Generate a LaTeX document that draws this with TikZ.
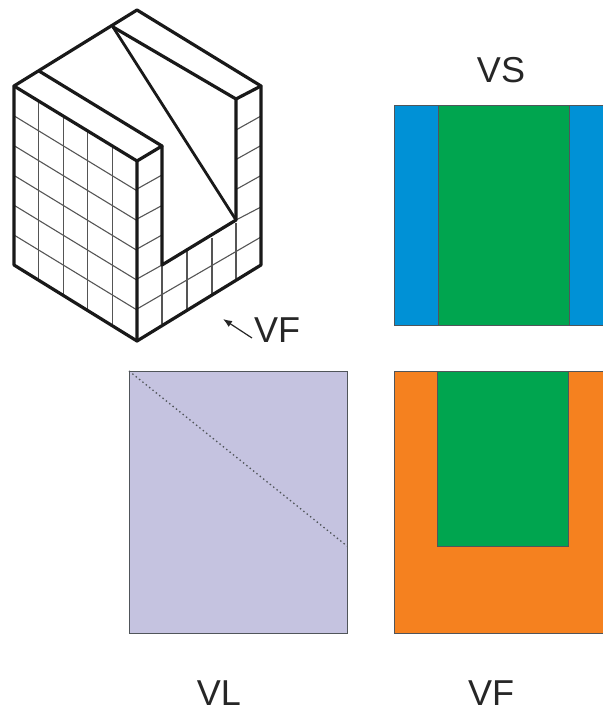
\documentclass[tikz,border=0pt]{standalone}
\usepackage{fontspec}
\usetikzlibrary{arrows.meta}
\setmainfont{Liberation Sans}
\definecolor{vblue}{HTML}{0091D6}
\definecolor{vgreen}{HTML}{00A54F}
\definecolor{vlav}{HTML}{C5C3E0}
\definecolor{vorange}{HTML}{F5811F}
\definecolor{vedge}{HTML}{50555A}
\definecolor{vgrid}{HTML}{555555}
\begin{document}
\begin{tikzpicture}[x=1pt,y=-1pt,
  thick edge/.style={line width=3.2pt,black!90,line join=round,line cap=round},
  mid edge/.style={line width=2.8pt,black!90,line join=round,line cap=round},
  gridline/.style={line width=1.1pt,vgrid},
  flat/.style={draw=vedge,line width=1pt},
  lbl/.style={font=\fontsize{36}{36}\selectfont,text=black!85,inner sep=0pt,anchor=base}]
\useasboundingbox (0,0) rectangle (603,708);
% grid, left face
\foreach \x in {38.6,63.2,87.8,112.4}{
  \draw[gridline] (\x,{86+(\x-14)*0.6}) -- (\x,{265+(\x-14)*0.6});}
\foreach \k in {1,...,5}{
  \draw[gridline] (14,{86+\k*29.8}) -- (137,{161+\k*29.8});}
% grid, right face: lower rows
\draw[gridline] (137,189) -- (162,175);
\draw[gridline] (137,219) -- (162,205.5);
\draw[gridline] (137,249) -- (162,235);
\draw[gridline] (137,279) -- (162,265) (162,265) -- (236,221);
\draw[gridline] (137,309) -- (261,237);
% grid, right strip
\draw[gridline] (236,130) -- (261,116);
\draw[gridline] (236,159.5) -- (261,145.5);
\draw[gridline] (236,189.5) -- (261,175.5);
\draw[gridline] (236,220) -- (261,207);
% grid, right face: verticals
\draw[gridline] (162,265) -- (162,324);
\draw[gridline] (187,251) -- (187,309);
\draw[gridline] (212,238) -- (212,294);
\draw[gridline] (236,223) -- (236,280);
% block outline
\draw[thick edge] (14,86) -- (137,10) -- (261,86) -- (261,265) -- (137,341) -- (14,265) -- cycle;
\draw[thick edge] (14,86) -- (137,161) -- (137,341);
\draw[thick edge] (137,161) -- (162,146) -- (39,71);
\draw[thick edge] (162,146) -- (162,265) -- (236,220) -- (236,99) -- (113,27);
\draw[thick edge] (236,99) -- (261,86);
\draw[mid edge] (113,27) -- (236,220);
% arrow
\coordinate (arrowtail) at (252,338);
\coordinate (arrowhead) at (223,319);
\draw[line width=1.2pt,black!85,-{Latex[length=9pt,width=7pt]}] (arrowtail) -- (arrowhead);
\node[lbl] (vfa) at (277,342) {VF};
% VS
\fill[vblue] (394,106) rectangle (603,325);
\fill[vgreen] (438,106) rectangle (569,325);
\draw[flat] (603,106) -- (394,106) -- (394,325) -- (603,325);
\draw[flat] (438,106) -- (438,325) (569,106) -- (569,325);
\node[lbl] (vs) at (501,82.5) {VS};
% VL
\draw[flat,fill=vlav] (129,371) rectangle (347,633);
\draw[vedge,line width=1.3pt,dash pattern=on 1.4pt off 2.9pt] (129,371) -- (347,546);
\node[lbl] (vl) at (219,705) {VL};
% VF
\fill[vorange] (394,371) rectangle (603,633);
\draw[flat] (603,371) -- (394,371) -- (394,633) -- (603,633);
\draw[flat,fill=vgreen] (437.5,371) -- (437.5,546) -- (568,546) -- (568,371) -- cycle;
\node[lbl] (vfb) at (491,705) {VF};
\end{tikzpicture}
\end{document}
